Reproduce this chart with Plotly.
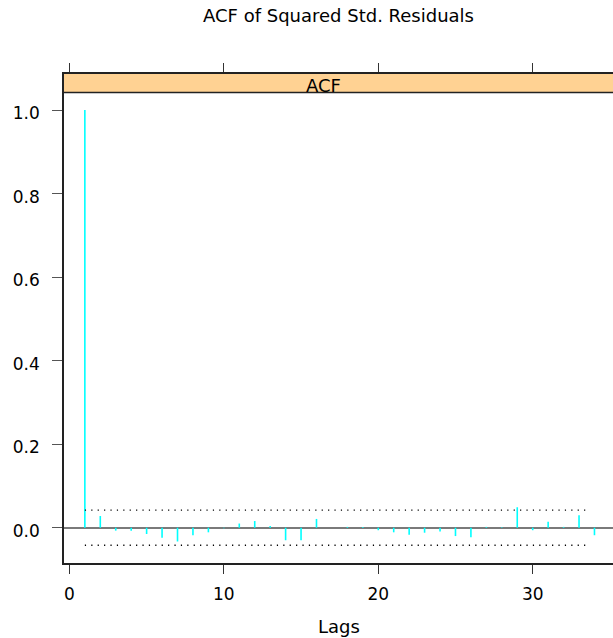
import plotly.graph_objects as go

# ---- data ----
lags = list(range(1, 35))
acf_values = [1.0, 0.028, -0.007, -0.007, -0.015, -0.024, -0.033, -0.018, -0.011, -0.001,
              0.010, 0.016, 0.004, -0.030, -0.030, 0.021, 0.0, 0.002, 0.002, -0.006,
              -0.011, -0.017, -0.012, -0.009, -0.020, -0.023, 0.002, 0.001, 0.049, -0.006,
              0.014, 0.002, 0.030, -0.018]
conf_bound = 0.042
conf_lag_range = [1, 33.7]
x_ticks = [0, 10, 20, 30]
y_ticks = [0.0, 0.2, 0.4, 0.6, 0.8, 1.0]
y_tick_labels = ["0.0", "0.2", "0.4", "0.6", "0.8", "1.0"]

FONT = "DejaVu Sans"

# stems built from the data
sx, sy = [], []
for l, v in zip(lags, acf_values):
    sx += [l, l, None]
    sy += [0, v, None]

fig = go.Figure()
fig.add_trace(go.Scatter(x=sx, y=sy, mode="lines",
                         line=dict(color="#00FFFF", width=1.6),
                         hoverinfo="skip", showlegend=False))
for b in (conf_bound, -conf_bound):
    fig.add_trace(go.Scatter(x=conf_lag_range, y=[b, b], mode="lines",
                             line=dict(color="#000000", width=1.4, dash="1.2px,5.2px"),
                             hoverinfo="skip", showlegend=False))

# strip (panel header)
strip_bottom = (563.3 - 92.7) / 489.0
fig.add_shape(type="rect", xref="paper", yref="paper",
              x0=-0.001, x1=1.02, y0=strip_bottom, y1=1.0,
              fillcolor="#FFD293", line=dict(width=0), layer="below")
fig.add_shape(type="line", xref="paper", yref="paper",
              x0=0, x1=1.02, y0=strip_bottom, y1=strip_bottom,
              line=dict(color="#222222", width=1.5))
fig.add_annotation(text="ACF", xref="paper", yref="paper", x=0.472, y=0.977,
                   xanchor="center", yanchor="middle", showarrow=False,
                   font=dict(family=FONT, size=18, color="black"))
fig.add_annotation(text="Lags", xref="paper", yref="paper", x=0.5, y=-0.129,
                   xanchor="center", yanchor="middle", showarrow=False,
                   font=dict(family=FONT, size=18, color="black"))

fig.update_layout(
    width=613, height=638,
    margin=dict(l=64, r=0, t=74, b=75),
    paper_bgcolor="white", plot_bgcolor="white",
    title=dict(text="ACF of Squared Std. Residuals", x=0.5, xref="paper",
               y=1 - 16 / 638, yref="container", yanchor="middle", xanchor="center",
               font=dict(family=FONT, size=18, color="black")),
    xaxis=dict(range=[-0.35, 35.2], tickvals=x_ticks, ticktext=[str(t) for t in x_ticks],
               showgrid=False, zeroline=False, showline=True, linecolor="#222222",
               linewidth=1.5, mirror="ticks", ticks="outside", ticklen=9,
               tickcolor="#333333", tickwidth=1,
               tickfont=dict(family=FONT, size=17, color="black"),
               ticklabelstandoff=6),
    yaxis=dict(range=[-0.0845, 1.0865], tickvals=y_ticks, ticktext=y_tick_labels,
               showgrid=False, zeroline=True, zerolinecolor="#7a7a7a", zerolinewidth=1.5,
               showline=True, linecolor="#222222", linewidth=1.5,
               ticks="outside", ticklen=10, tickcolor="#555555", tickwidth=1,
               tickfont=dict(family=FONT, size=17, color="black"),
               ticklabelstandoff=9, ticklabelshift=3),
)

fig.write_html("out.html", config={"displayModeBar": False},
               post_script="document.body.style.margin='0';document.body.style.overflow='hidden';")
